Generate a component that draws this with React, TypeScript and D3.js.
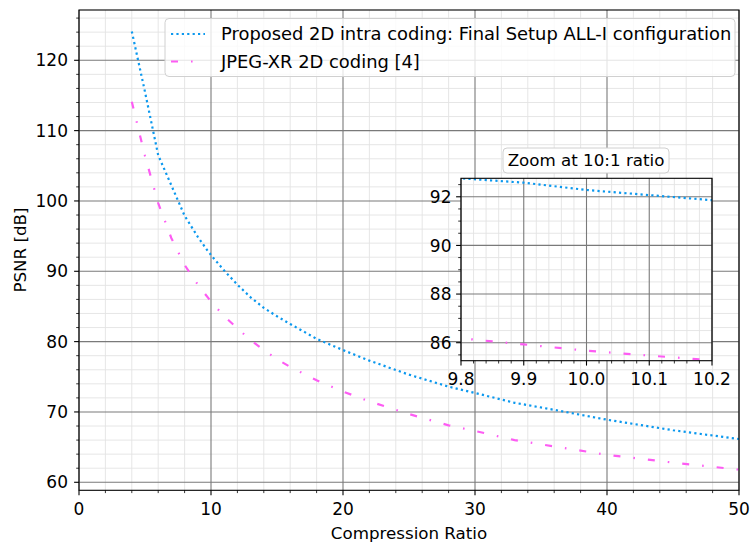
import React from 'react';
import * as d3 from 'd3';

// compression ratios sampled off the figure
const ratios = [4, 5, 6, 7, 8, 9, 9.8, 9.9, 10, 10.1, 10.2, 11, 12, 13, 14, 15, 16, 18, 20, 22, 25, 28, 30, 33, 36, 40, 45, 50];
const proposedPsnr = [124.1, 115.5, 106.5, 102.2, 97.9, 94.9, 92.76, 92.58, 92.28, 92.07, 91.86, 90.1, 88.1, 86.3, 84.8, 83.6, 82.5, 80.4, 78.8, 77.3, 75.3, 73.6, 72.7, 71.3, 70.3, 68.9, 67.4, 66.15];
const jpegXrPsnr = [114.1, 106.4, 99.7, 94.7, 90.9, 88.1, 86.18, 85.93, 85.67, 85.47, 85.28, 83.6, 81.9, 80.2, 78.8, 77.5, 76.4, 74.5, 72.9, 71.5, 69.7, 68.1, 67.3, 66.0, 65.1, 63.9, 62.8, 61.8];

const seriesNames = ['Proposed 2D intra coding: Final Setup ALL-I configuration', 'JPEG-XR 2D coding [4]'];
const seriesColors = ['#0b98ee', '#fd5cf3'];
const seriesDash = ['2.2 3.2', '7 13 1.6 13'];

const mainXTicks = [0, 10, 20, 30, 40, 50];
const mainYTicks = [60, 70, 80, 90, 100, 110, 120];
const insetXTicks = ['9.8', '9.9', '10.0', '10.1', '10.2'];
const insetYTicks = [86, 88, 90, 92];

const FONT = 'DejaVu Sans, Liberation Sans, sans-serif';
const FS = 17;       // tick labels
const LABEL_FS = 16.7;
const LEGEND_FS = 17.9;
const MAJOR = '#7a7a7a';
const MINOR = '#e3e3e3';

function Panel({id, sx, sy, xTicks, xMinor, yTicks, yMinor, yLabelShift}) {
    const [x0, x1] = sx.range();
    const [y0, y1] = sy.range(); // y0 bottom, y1 top
    const data = ratios.map((r, i) => ({r, a: proposedPsnr[i], b: jpegXrPsnr[i]}));
    const lineA = d3.line().x((d) => sx(d.r)).y((d) => sy(d.a));
    const lineB = d3.line().x((d) => sx(d.r)).y((d) => sy(d.b));

    return (
        <g>
            <defs>
                <clipPath id={id}>
                    <rect x={x0} y={y1} width={x1 - x0} height={y0 - y1} />
                </clipPath>
            </defs>
            <rect x={x0} y={y1} width={x1 - x0} height={y0 - y1} fill="white" />
            {xMinor.map((v, i) => <line key={`xm${i}`} x1={sx(v)} x2={sx(v)} y1={y0} y2={y1} stroke={MINOR} strokeWidth={0.9} />)}
            {yMinor.map((v, i) => <line key={`ym${i}`} x1={x0} x2={x1} y1={sy(v)} y2={sy(v)} stroke={MINOR} strokeWidth={0.9} />)}
            {xTicks.map((v, i) => <line key={`xg${i}`} x1={sx(+v)} x2={sx(+v)} y1={y0} y2={y1} stroke={MAJOR} strokeWidth={1.1} />)}
            {yTicks.map((v, i) => <line key={`yg${i}`} x1={x0} x2={x1} y1={sy(v)} y2={sy(v)} stroke={MAJOR} strokeWidth={1.1} />)}
            <g clipPath={`url(#${id})`}>
                <path d={lineA(data)} fill="none" stroke={seriesColors[0]} strokeWidth={2.2} strokeDasharray={seriesDash[0]} />
                <path d={lineB(data)} fill="none" stroke={seriesColors[1]} strokeWidth={2.2} strokeDasharray={seriesDash[1]} />
            </g>
            <rect x={x0} y={y1} width={x1 - x0} height={y0 - y1} fill="none" stroke="black" strokeWidth={1.1} />
            {xMinor.map((v, i) => <line key={`xt${i}`} x1={sx(v)} x2={sx(v)} y1={y0} y2={y0 + 2.8} stroke="black" strokeWidth={0.8} />)}
            {yMinor.map((v, i) => <line key={`yt${i}`} x1={x0} x2={x0 - 2.8} y1={sy(v)} y2={sy(v)} stroke="black" strokeWidth={0.8} />)}
            {xTicks.map((v, i) =>
                <g key={`xl${i}`} transform={`translate(${sx(+v)}, ${y0})`}>
                    <line y2={4.9} stroke="black" strokeWidth={1.1} />
                    <text y={24.5} textAnchor="middle" fontFamily={FONT} fontSize={FS}>{v}</text>
                </g>
            )}
            {yTicks.map((v, i) =>
                <g key={`yl${i}`} transform={`translate(${x0}, ${sy(v)})`}>
                    <line x2={-4.9} stroke="black" strokeWidth={1.1} />
                    <text x={yLabelShift} y={6.2} textAnchor="end" fontFamily={FONT} fontSize={FS}>{v}</text>
                </g>
            )}
        </g>
    )
}

export default function App() {
    const sx = d3.scaleLinear().domain([0, 50]).range([79, 739]);
    const sy = d3.scaleLinear().domain([58.86, 127.15]).range([490.3, 10]);
    const ix = d3.scaleLinear().domain([9.8, 10.2]).range([461, 712]);
    const iy = d3.scaleLinear().domain([85.26, 92.76]).range([360.7, 178.3]);

    const mainXMinor = d3.range(0, 50.01, 2).filter((v) => v % 10 !== 0);
    const mainYMinor = d3.range(60, 127, 2).filter((v) => v % 10 !== 0);
    const insetXMinor = d3.range(0, 21).map((i) => 9.8 + i * 0.02).filter((_, i) => i % 5 !== 0);
    const insetYMinor = d3.range(85.5, 92.76, 0.5).filter((v) => v % 2 !== 0);

    return (
        <svg width={750} height={544} style={{position: 'absolute', left: 0, top: 0}} xmlns="http://www.w3.org/2000/svg">
            <rect width={750} height={544} fill="white" />
            <Panel id="clipMain" sx={sx} sy={sy} xTicks={mainXTicks} xMinor={mainXMinor} yTicks={mainYTicks} yMinor={mainYMinor} yLabelShift={-11} />
            <text x={409} y={539} textAnchor="middle" fontFamily={FONT} fontSize={LABEL_FS}>Compression Ratio</text>
            <text transform="translate(26, 250) rotate(-90)" textAnchor="middle" fontFamily={FONT} fontSize={LABEL_FS}>PSNR [dB]</text>

            <Panel id="clipInset" sx={ix} sy={iy} xTicks={insetXTicks} xMinor={insetXMinor} yTicks={insetYTicks} yMinor={insetYMinor} yLabelShift={-9.5} />
            <rect x={503} y={148} width={166} height={25} rx={4} fill="white" stroke="#d0d0d0" strokeWidth={1} />
            <text x={586} y={166} textAnchor="middle" fontFamily={FONT} fontSize={LABEL_FS}>Zoom at 10:1 ratio</text>

            <g>
                <rect x={165} y={18.5} width={570} height={58} rx={4} fill="white" fillOpacity={0.8} stroke="#d0d0d0" strokeWidth={1} />
                {seriesNames.map((name, i) =>
                    <g key={`leg${i}`} transform={`translate(171, ${34 + i * 27.5})`}>
                        <line x1={0} x2={34} stroke={seriesColors[i]} strokeWidth={2.2} strokeDasharray={seriesDash[i]} />
                        <text x={50} y={6.2} fontFamily={FONT} fontSize={LEGEND_FS}>{name}</text>
                    </g>
                )}
            </g>
        </svg>
    )
}
